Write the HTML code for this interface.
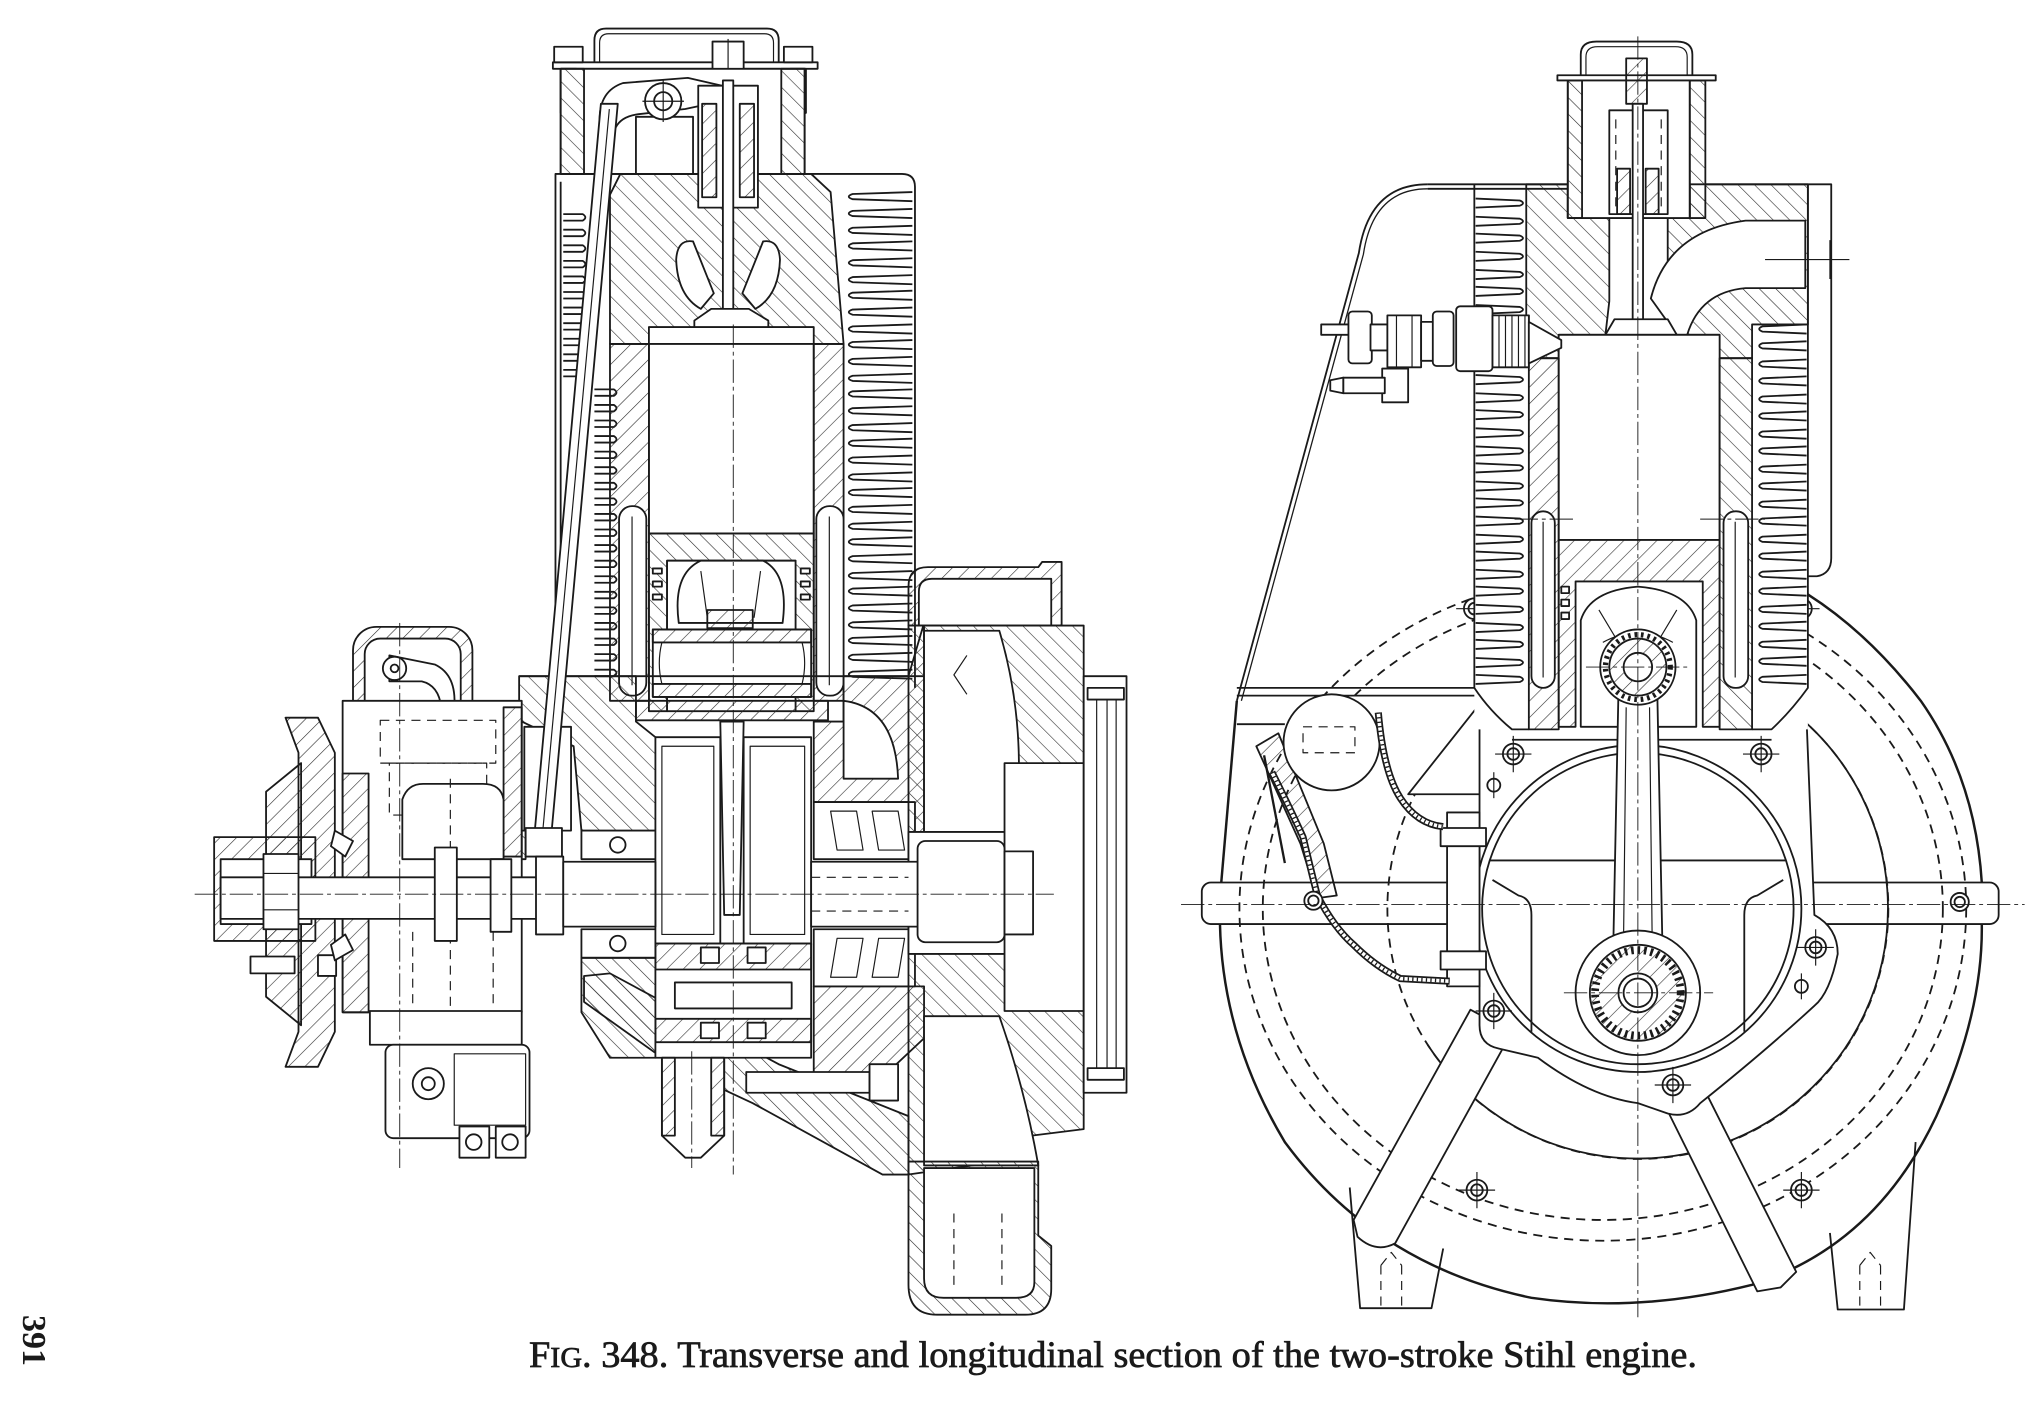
<!DOCTYPE html>
<html><head><meta charset="utf-8">
<style>
html,body{margin:0;padding:0;background:#fff;}
body{width:2035px;height:1420px;overflow:hidden;}
svg{display:block;}
.w{fill:#fff}
.h{fill:url(#h1)}
.k{fill:url(#h2)}
.c{stroke-width:.7;stroke-dasharray:18 3 3 3;fill:none}
.d{stroke-dasharray:7 5;fill:none}
.t{stroke-width:.9;fill:none}
.n{fill:none}
</style></head>
<body>
<svg xmlns="http://www.w3.org/2000/svg" width="2035" height="1420" viewBox="0 0 2035 1420">
<defs>
<pattern id="h1" patternUnits="userSpaceOnUse" width="9" height="9" patternTransform="rotate(45)"><line x1="0" y1="0" x2="0" y2="9" stroke="#2a2a2a" stroke-width="0.9"/></pattern>
<pattern id="h2" patternUnits="userSpaceOnUse" width="9" height="9" patternTransform="rotate(-45)"><line x1="0" y1="0" x2="0" y2="9" stroke="#2a2a2a" stroke-width="0.9"/></pattern>
<path id="fa" d="M0,0 L-46,1.5 Q-52,3.5 -46,5.5 L0,7"/>
<path id="fb" d="M0,0 L15,0 Q19,2.5 15,5 L0,5"/>
<path id="fd" d="M0,0 L34,1.5 Q39,3.5 34,5.5 L0,7"/>
<path id="fe" d="M0,0 L-34,1.5 Q-39,3.5 -34,5.5 L0,7"/>
</defs>
<rect width="2035" height="1420" fill="#fff"/>
<g transform="scale(1.29783)" stroke="#1a1a1a" stroke-width="1.4" fill="none" stroke-linejoin="round">

<!-- ================= LEFT ENGINE ================= -->
<path class="w" d="M428,530 L428,134 L695,134 Q705,134 705,144 L705,530"/>
<path d="M432,140 L432,530"/>
<g fill="none">
<use href="#fa" x="703" y="148"/><use href="#fa" x="703" y="161"/><use href="#fa" x="703" y="174"/><use href="#fa" x="703" y="186"/><use href="#fa" x="703" y="199"/><use href="#fa" x="703" y="212"/><use href="#fa" x="703" y="224"/><use href="#fa" x="703" y="237"/><use href="#fa" x="703" y="250"/><use href="#fa" x="703" y="262"/><use href="#fa" x="703" y="275"/><use href="#fa" x="703" y="288"/><use href="#fa" x="703" y="300"/><use href="#fa" x="703" y="313"/><use href="#fa" x="703" y="326"/><use href="#fa" x="703" y="338"/><use href="#fa" x="703" y="351"/><use href="#fa" x="703" y="364"/><use href="#fa" x="703" y="376"/><use href="#fa" x="703" y="389"/><use href="#fa" x="703" y="402"/><use href="#fa" x="703" y="414"/><use href="#fa" x="703" y="427"/><use href="#fa" x="703" y="440"/><use href="#fa" x="703" y="452"/><use href="#fa" x="703" y="465"/><use href="#fa" x="703" y="478"/><use href="#fa" x="703" y="490"/><use href="#fa" x="703" y="503"/><use href="#fa" x="703" y="516"/>
<use href="#fb" x="434" y="165"/><use href="#fb" x="434" y="177"/><use href="#fb" x="434" y="189"/><use href="#fb" x="434" y="201"/><use href="#fb" x="434" y="213"/><use href="#fb" x="434" y="225"/><use href="#fb" x="434" y="237"/><use href="#fb" x="434" y="249"/><use href="#fb" x="434" y="261"/><use href="#fb" x="434" y="273"/><use href="#fb" x="434" y="285"/>
<use href="#fb" x="458" y="300"/><use href="#fb" x="458" y="312"/><use href="#fb" x="458" y="324"/><use href="#fb" x="458" y="336"/><use href="#fb" x="458" y="348"/><use href="#fb" x="458" y="360"/><use href="#fb" x="458" y="372"/><use href="#fb" x="458" y="384"/><use href="#fb" x="458" y="396"/><use href="#fb" x="458" y="408"/><use href="#fb" x="458" y="420"/><use href="#fb" x="458" y="432"/><use href="#fb" x="458" y="444"/><use href="#fb" x="458" y="456"/><use href="#fb" x="458" y="468"/><use href="#fb" x="458" y="480"/><use href="#fb" x="458" y="492"/><use href="#fb" x="458" y="504"/><use href="#fb" x="458" y="516"/>
</g>

<!-- rocker cover -->
<path d="M458,50 L458,31 Q458,22 467,22 L591,22 Q600,22 600,31 L600,50"/>
<path class="t" d="M462,50 L462,33 Q462,26 469,26 L589,26 Q596,26 596,33 L596,50"/>
<rect class="w" x="426" y="48" width="204" height="5"/>
<rect class="w" x="427" y="36" width="22" height="12"/>
<rect class="h" x="432" y="53" width="12" height="34"/>
<rect class="w" x="604" y="36" width="22" height="12"/>
<rect class="h" x="609" y="53" width="12" height="34"/>
<rect class="w" x="549" y="32" width="24" height="30"/>
<path class="t" d="M561,30 L561,64"/>

<!-- valve housing -->
<rect class="w" x="432" y="53" width="188" height="81"/>
<rect class="k" x="432" y="53" width="18" height="81"/>
<rect class="k" x="602" y="53" width="18" height="81"/>
<rect class="w" x="490" y="90" width="44" height="44"/>
<path class="w" d="M462,92 Q462,70 480,64 L530,60 L556,66 L556,78 L528,84 L492,88 Q476,90 473,102 Z"/>
<circle class="w" cx="511" cy="78" r="14"/>
<circle cx="511" cy="78" r="7"/>
<path class="t" d="M495,78 H527 M511,62 V94"/>

<!-- head -->
<path class="k" d="M478,134 L625,134 L640,148 L650,265 L627,265 L627,252 L500,252 L500,265 L470,265 L470,150 Z"/>
<rect class="w" x="538" y="66" width="46" height="94"/>
<rect class="h" x="541" y="80" width="11" height="72"/>
<rect class="h" x="570" y="80" width="11" height="72"/>
<path class="w" d="M521,200 Q522,184 534,186 L550,226 L540,238 Q522,228 521,200 Z"/>
<path class="w" d="M601,200 Q600,184 588,186 L572,226 L582,238 Q600,228 601,200 Z"/>
<rect class="w" x="557" y="62" width="8" height="180"/>
<path class="w" d="M535,252 L592,252 L592,247 L577,238 L548,238 L535,247 Z"/>

<!-- cylinder -->
<rect class="w" x="500" y="265" width="127" height="146"/>
<rect class="h" x="470" y="265" width="30" height="275"/>
<rect class="h" x="627" y="265" width="23" height="275"/>
<rect class="w" x="477" y="390" width="21" height="146" rx="10"/>
<rect class="w" x="629" y="390" width="21" height="146" rx="10"/>
<path class="t" d="M487,398 V528 M639,398 V528"/>

<!-- piston -->
<path class="k" d="M500,411 L627,411 L627,548 L613,548 L613,432 L514,432 L514,548 L500,548 Z"/>
<rect class="w" x="514" y="432" width="99" height="116"/>
<path class="w" d="M523,480 Q518,442 540,432 L588,432 Q608,442 603,480 Z"/>
<path class="t" d="M540,440 L545,476 M586,440 L581,476"/>
<rect class="h" x="545" y="470" width="35" height="14"/>
<rect class="w" x="503" y="438" width="7" height="4"/><rect class="w" x="503" y="448" width="7" height="4"/><rect class="w" x="503" y="458" width="7" height="4"/>
<rect class="w" x="617" y="438" width="7" height="4"/><rect class="w" x="617" y="448" width="7" height="4"/><rect class="w" x="617" y="458" width="7" height="4"/>
<rect class="w" x="503" y="485" width="122" height="52"/>
<rect class="h" x="503" y="485" width="122" height="10"/>
<rect class="h" x="503" y="527" width="122" height="10"/>
<path class="t" d="M510,495 Q506,511 510,527 M618,495 Q622,511 618,527"/>
<rect class="h" x="490" y="540" width="148" height="15"/>

<!-- crankcase -->
<path d="M400,521 L712,521"/>
<path class="k" d="M400,521 L490,521 L490,556 L505,568 L505,640 L448,640 L442,575 L400,555 Z"/>
<path class="h" d="M627,556 L650,556 L650,521 L700,521 L712,480 L712,645 L700,645 L700,618 L627,618 Z"/>
<path class="w" d="M650,540 Q690,545 692,600 L650,600 Z"/>
<rect class="w" x="627" y="618" width="78" height="44"/>
<path class="t" d="M640,625 L660,625 L665,655 L645,655 Z M672,625 L692,625 L697,655 L677,655 Z"/>
<rect class="w" x="627" y="716" width="78" height="44"/>
<path class="t" d="M645,723 L665,723 L660,753 L640,753 Z M677,723 L697,723 L692,753 L672,753 Z"/>
<path class="h" d="M627,760 L712,760 L712,800 L680,830 L627,830 Z"/>
<rect class="w" x="448" y="640" width="57" height="22"/>
<circle cx="476" cy="651" r="6"/>
<rect class="w" x="448" y="716" width="57" height="22"/>
<circle cx="476" cy="727" r="6"/>
<path class="k" d="M448,738 L505,738 L505,815 L470,815 L448,780 Z"/>
<path class="k" d="M450,752 L470,750 L600,820 L700,860 L700,905 L680,905 L580,850 L520,822 L450,772 Z"/>

<!-- webs -->
<rect class="w" x="505" y="568" width="50" height="160"/>
<rect class="t" x="510" y="575" width="40" height="145"/>
<rect class="w" x="573" y="568" width="52" height="160"/>
<rect class="t" x="578" y="575" width="42" height="145"/>
<path class="w" d="M555,556 L573,556 L570,705 L558,705 Z"/>
<rect class="w" x="505" y="727" width="120" height="88"/>
<rect class="h" x="505" y="727" width="120" height="20"/>
<rect class="h" x="505" y="785" width="120" height="18"/>
<rect class="w" x="520" y="757" width="90" height="20"/>
<rect class="w" x="540" y="730" width="14" height="12"/><rect class="w" x="576" y="730" width="14" height="12"/>
<rect class="w" x="540" y="788" width="14" height="12"/><rect class="w" x="576" y="788" width="14" height="12"/>
<path class="w" d="M510,815 L558,815 L558,875 L540,892 L528,892 L510,875 Z"/>
<rect class="h" x="510" y="815" width="10" height="60"/>
<rect class="h" x="548" y="815" width="10" height="60"/>

<!-- pushrod -->
<path class="w" d="M404,560 L440,560 L440,640 L404,640 Z"/>
<path class="w" d="M463,80 L476,80 L424,652 L411,652 Z"/>
<path class="t" d="M469.5,84 L417.5,648"/>
<rect class="w" x="405" y="638" width="28" height="22"/>
<path class="k" d="M400,640 L405,640 L405,662 L400,662 Z"/>

<!-- flywheel housing -->
<path class="h" d="M700,482 L700,452 Q700,437 715,437 L800,437 L803,433 L818,433 L818,482 Z"/>
<path class="w" d="M708,482 L708,456 Q708,446 718,446 L810,446 L810,482 Z"/>
<path class="k" d="M700,482 L835,482 L835,870 L795,875 L770,895 L700,905 Z"/>
<path class="w" d="M712,486 L770,486 Q792,560 782,641 L712,641 Z"/>
<path class="t" d="M745,505 L735,520 L745,535"/>
<rect class="w" x="700" y="641" width="100" height="94"/>
<rect class="w" x="774" y="588" width="61" height="191"/>
<path class="w" d="M712,783 L770,783 Q790,840 800,898 L712,898 Z"/>
<rect class="w" x="835" y="521" width="33" height="321"/>
<path class="t" d="M845,532 V832 M853,532 V832 M860,532 V832"/>
<rect class="w" x="838" y="530" width="28" height="9"/>
<rect class="w" x="838" y="823" width="28" height="9"/>
<path class="k" d="M700,895 L700,990 Q700,1013 722,1013 L790,1013 Q810,1013 810,993 L810,960 L800,952 L800,895 Z"/>
<path class="w" d="M712,900 L712,985 Q712,1000 727,1000 L783,1000 Q797,1000 797,988 L797,900 Z"/>
<path class="d t" d="M735,935 V995 M772,935 V995"/>
<rect class="w" x="575" y="826" width="95" height="16"/>
<rect class="w" x="670" y="820" width="22" height="28"/>

<!-- gear housing -->
<rect class="h" x="272" y="483" width="92" height="75" rx="18"/>
<rect class="w" x="281" y="492" width="74" height="66" rx="12"/>
<path class="w" d="M300,505 L335,512 Q352,520 350,545 L340,545 Q338,528 325,525 L300,525 Z"/>
<circle class="w" cx="304" cy="515" r="9"/>
<circle cx="304" cy="515" r="3"/>
<rect class="w" x="264" y="540" width="138" height="240"/>
<rect class="h" x="264" y="596" width="20" height="184"/>
<rect class="h" x="388" y="545" width="14" height="115"/>
<rect class="d t" x="293" y="555" width="89" height="33"/>
<rect class="d t" x="300" y="588" width="75" height="40"/>
<path class="w" d="M310,662 L310,616 Q314,604 326,604 L372,604 Q386,604 388,616 L388,662 Z"/>
<path class="d t" d="M318,718 V778 M347,600 V778 M380,718 V778"/>
<rect class="w" x="285" y="779" width="117" height="26"/>
<rect class="w" x="297" y="805" width="111" height="72" rx="6"/>
<rect class="t" x="350" y="812" width="55" height="55"/>
<circle class="w" cx="330" cy="835" r="12"/>
<circle cx="330" cy="835" r="5"/>
<rect class="w" x="354" y="868" width="23" height="24"/>
<circle cx="365" cy="880" r="6"/>
<rect class="w" x="382" y="868" width="23" height="24"/>
<circle cx="393" cy="880" r="6"/>

<!-- pulley -->
<path class="h" d="M205,610 L232,588 L232,790 L205,768 Z"/>
<path class="h" d="M220,553 L245,553 L258,580 L258,795 L245,822 L220,822 L230,795 L230,580 Z"/>
<rect class="h" x="165" y="645" width="78" height="80"/>
<rect class="w" x="170" y="662" width="70" height="50"/>
<rect class="w" x="193" y="737" width="34" height="13"/>
<rect class="w" x="245" y="736" width="14" height="16"/>
<path class="w" d="M258,640 L272,648 L266,660 L255,652 Z M258,740 L272,732 L266,720 L255,728 Z"/>

<!-- shaft -->
<rect class="w" x="170" y="676" width="264" height="32"/>
<rect class="w" x="203" y="658" width="27" height="58"/>
<path class="t" d="M203,673 H230 M203,701 H230"/>
<rect class="w" x="335" y="653" width="17" height="72"/>
<rect class="w" x="378" y="662" width="16" height="56"/>
<rect class="w" x="413" y="660" width="21" height="60"/>
<rect class="w" x="434" y="664" width="71" height="50"/>
<rect class="w" x="625" y="664" width="170" height="50"/>
<rect class="w" x="707" y="648" width="67" height="78" rx="6"/>
<rect class="w" x="774" y="656" width="22" height="64"/>
<path class="d t" d="M625,676 H700 M625,702 H700"/>

<!-- left centerlines -->
<path class="c" d="M150,689 H812"/>
<path class="c" d="M565,250 V905"/>
<path class="c" d="M308,480 V900"/>
<path class="c" d="M533,810 V900"/>

<!-- ================= RIGHT ENGINE ================= -->
<!-- feet -->
<path class="w" d="M1040,915 L1048,1008 L1103,1008 L1112,962"/>
<path class="d t" d="M1064,975 V1008 M1080,975 V1008 M1064,975 L1072,965 L1080,975"/>
<path class="w" d="M1410,950 L1416,1009 L1467,1009 L1476,880"/>
<path class="d t" d="M1433,975 V1009 M1449,975 V1009 M1433,975 L1441,965 L1449,975"/>

<!-- outer housing -->
<path d="M940,712 Q942,800 990,880 Q1060,975 1180,1000 Q1262,1012 1350,990 Q1445,960 1492,860 Q1528,780 1527,712" stroke-width="1.9"/>
<path d="M1527,680 Q1522,600 1480,540 Q1440,488 1393,458" stroke-width="1.9"/>
<path d="M953,540 L941,680" stroke-width="1.9"/>
<ellipse class="d" cx="1235" cy="700" rx="262" ry="240"/>
<ellipse class="d" cx="1235" cy="700" rx="280" ry="256"/>
<circle class="d" cx="1262" cy="700" r="193"/>
<path d="M1386,552 A193,193 0 1,1 1100,805"/>
<rect x="926" y="680" width="614" height="32" rx="7"/>

<!-- struts -->
<path class="w" d="M1133,778 L1165,795 L1075,958 Q1060,966 1046,953 L1043,940 Z"/>
<path class="w" d="M1282,850 L1312,837 L1384,980 L1372,992 L1354,995 Z"/>

<!-- crankcase -->
<path class="w" d="M1085,612 L1150,530 L1172,545 L1150,612 Z"/>
<path class="w" d="M1140,555 L1140,790 Q1140,805 1155,808 L1185,815 Q1225,845 1262,850 L1285,858 Q1300,862 1310,850 Q1360,810 1398,775 Q1410,765 1416,735 Q1416,715 1398,705 L1392,555 Z"/>
<circle class="w" cx="1262" cy="700" r="126"/>
<circle cx="1262" cy="700" r="120"/>
<path d="M1148,663 H1376"/>
<path d="M1150,678 L1170,690 Q1180,692 1180,705 L1180,795"/>
<path d="M1374,678 L1354,690 Q1344,692 1344,705 L1344,795"/>

<!-- link, magneto, cables -->
<rect class="w" x="1115" y="626" width="25" height="134"/>
<rect class="w" x="1110" y="638" width="35" height="14"/>
<rect class="w" x="1110" y="733" width="35" height="14"/>
<path d="M953,536 H1140 M953,530 H1140"/>
<path d="M953,558 H990"/>
<path class="h" d="M968,575 L985,565 L1020,650 L1030,690 L1015,692 L1002,650 Z"/>
<path d="M974,582 L990,665" stroke-width="1.8"/>
<circle class="w" cx="1026" cy="572" r="37"/>
<rect class="d t" x="1004" y="560" width="40" height="20"/>
<g>
<path d="M1062,549 Q1066,595 1079,615 Q1092,635 1112,637" stroke-width="5.5"/>
<path d="M1062,549 Q1066,595 1079,615 Q1092,635 1112,637" stroke="#fff" stroke-width="2.8"/>
<path d="M1062,549 Q1066,595 1079,615 Q1092,635 1112,637" stroke-width="2.8" stroke-dasharray="1 2.5"/>
<path d="M980,595 Q995,625 1004,645 Q1010,670 1015,690 Q1028,715 1043,728 Q1060,745 1079,754 L1117,756" stroke-width="5.5"/>
<path d="M980,595 Q995,625 1004,645 Q1010,670 1015,690 Q1028,715 1043,728 Q1060,745 1079,754 L1117,756" stroke="#fff" stroke-width="2.8"/>
<path d="M980,595 Q995,625 1004,645 Q1010,670 1015,690 Q1028,715 1043,728 Q1060,745 1079,754 L1117,756" stroke-width="2.8" stroke-dasharray="1 2.5"/>
</g>

<!-- bolts -->
<g>
<circle class="w" cx="1136" cy="469" r="8"/><circle cx="1136" cy="469" r="4.5"/><path class="t" d="M1122,469h28M1136,455v28"/>
<circle class="w" cx="1388" cy="469" r="8"/><circle cx="1388" cy="469" r="4.5"/><path class="t" d="M1374,469h28M1388,455v28"/>
<circle class="w" cx="1166" cy="581" r="8"/><circle cx="1166" cy="581" r="4.5"/><path class="t" d="M1152,581h28M1166,567v28"/>
<circle class="w" cx="1357" cy="581" r="8"/><circle cx="1357" cy="581" r="4.5"/><path class="t" d="M1343,581h28M1357,567v28"/>
<circle class="w" cx="1012" cy="694" r="7"/><circle cx="1012" cy="694" r="4"/>
<circle class="w" cx="1510" cy="695" r="7"/><circle cx="1510" cy="695" r="4"/>
<circle class="w" cx="1399" cy="730" r="8"/><circle cx="1399" cy="730" r="4.5"/><path class="t" d="M1385,730h28M1399,716v28"/>
<circle class="w" cx="1151" cy="779" r="8"/><circle cx="1151" cy="779" r="4.5"/><path class="t" d="M1137,779h28M1151,765v28"/>
<circle class="w" cx="1289" cy="836" r="8"/><circle cx="1289" cy="836" r="4.5"/><path class="t" d="M1275,836h28M1289,822v28"/>
<circle class="w" cx="1138" cy="917" r="8"/><circle cx="1138" cy="917" r="4.5"/><path class="t" d="M1124,917h28M1138,903v28"/>
<circle class="w" cx="1388" cy="917" r="8"/><circle cx="1388" cy="917" r="4.5"/><path class="t" d="M1374,917h28M1388,903v28"/>
<circle class="w" cx="1151" cy="605" r="5"/><path class="t" d="M1151,595v20"/>
<circle class="w" cx="1388" cy="760" r="5"/><path class="t" d="M1388,750v20"/>
</g>

<!-- cylinder block -->
<rect fill="#fff" stroke="none" x="1136" y="142" width="257" height="420"/>
<path d="M1136,142 L1136,530 Q1148,548 1165,562 L1178,562"/>
<path d="M1393,142 L1393,530 Q1380,548 1365,562 L1350,562"/>
<g>
<use href="#fd" x="1137" y="153"/><use href="#fd" x="1137" y="167"/><use href="#fd" x="1137" y="180"/><use href="#fd" x="1137" y="194"/><use href="#fd" x="1137" y="208"/><use href="#fd" x="1137" y="221"/><use href="#fd" x="1137" y="235"/><use href="#fd" x="1137" y="248"/><use href="#fd" x="1137" y="262"/><use href="#fd" x="1137" y="276"/><use href="#fd" x="1137" y="289"/><use href="#fd" x="1137" y="303"/><use href="#fd" x="1137" y="316"/><use href="#fd" x="1137" y="330"/><use href="#fd" x="1137" y="344"/><use href="#fd" x="1137" y="357"/><use href="#fd" x="1137" y="371"/><use href="#fd" x="1137" y="384"/><use href="#fd" x="1137" y="398"/><use href="#fd" x="1137" y="412"/><use href="#fd" x="1137" y="425"/><use href="#fd" x="1137" y="439"/><use href="#fd" x="1137" y="452"/><use href="#fd" x="1137" y="466"/><use href="#fd" x="1137" y="480"/><use href="#fd" x="1137" y="493"/><use href="#fd" x="1137" y="507"/><use href="#fd" x="1137" y="520"/>
<use href="#fe" x="1392" y="250"/><use href="#fe" x="1392" y="263"/><use href="#fe" x="1392" y="277"/><use href="#fe" x="1392" y="290"/><use href="#fe" x="1392" y="304"/><use href="#fe" x="1392" y="317"/><use href="#fe" x="1392" y="331"/><use href="#fe" x="1392" y="344"/><use href="#fe" x="1392" y="358"/><use href="#fe" x="1392" y="371"/><use href="#fe" x="1392" y="385"/><use href="#fe" x="1392" y="398"/><use href="#fe" x="1392" y="412"/><use href="#fe" x="1392" y="425"/><use href="#fe" x="1392" y="439"/><use href="#fe" x="1392" y="452"/><use href="#fe" x="1392" y="466"/><use href="#fe" x="1392" y="479"/><use href="#fe" x="1392" y="493"/><use href="#fe" x="1392" y="506"/><use href="#fe" x="1392" y="520"/>
</g>

<!-- head -->
<path class="k" d="M1176,142 L1208,142 L1208,168 L1240,168 L1240,232 L1237,258 L1201,258 L1201,276 L1178,276 L1178,243 L1176,243 Z"/>
<path class="k" d="M1285,168 L1302,168 L1302,142 L1393,142 L1393,250 L1350,250 L1350,276 L1325,276 L1325,258 L1292,258 L1285,232 Z"/>
<path class="w" d="M1272,230 Q1285,178 1345,170 L1391,170 L1391,222 L1345,222 Q1310,225 1300,258 L1292,258 Z"/>
<path class="t" d="M1360,200 H1425 M1410,185 V215"/>

<!-- valve cover -->
<path d="M1218,60 L1218,42 Q1218,32 1230,32 L1292,32 Q1304,32 1304,42 L1304,60"/>
<path class="t" d="M1222,60 L1222,44 Q1222,36 1231,36 L1291,36 Q1300,36 1300,44 L1300,60"/>
<rect class="w" x="1200" y="58" width="122" height="4"/>
<rect class="w" x="1208" y="62" width="94" height="106"/>
<rect class="k" x="1208" y="62" width="11" height="106"/>
<rect class="k" x="1302" y="62" width="12" height="106"/>
<rect class="h" x="1253" y="45" width="16" height="35"/>
<rect class="w" x="1240" y="85" width="45" height="80"/>
<path class="d t" d="M1245,92 V160 M1280,92 V160"/>
<rect class="h" x="1246" y="130" width="10" height="35"/>
<rect class="h" x="1268" y="130" width="10" height="35"/>
<rect class="w" x="1258" y="80" width="8" height="168"/>
<path class="w" d="M1237,258 L1292,258 L1285,246 L1244,246 Z"/>

<!-- cylinder -->
<rect class="w" x="1201" y="258" width="124" height="158"/>
<rect class="h" x="1178" y="276" width="23" height="286"/>
<rect class="k" x="1325" y="276" width="25" height="286"/>
<rect class="w" x="1180" y="394" width="18" height="136" rx="9"/>
<rect class="w" x="1328" y="394" width="19" height="136" rx="9"/>
<path class="t" d="M1189,402 V522 M1337,402 V522"/>
<path class="c" d="M1167,400 H1215 M1310,400 H1360"/>

<!-- piston -->
<path class="h" d="M1201,416 L1325,416 L1325,560 L1312,560 L1312,448 L1214,448 L1214,560 L1201,560 Z"/>
<path class="w" d="M1218,560 L1218,478 Q1225,455 1262,452 Q1300,455 1307,478 L1307,560 Z"/>
<path class="t" d="M1232,470 L1250,500 M1292,470 L1274,500 M1235,495 Q1262,480 1289,495"/>
<rect class="w" x="1203" y="452" width="6" height="5"/><rect class="w" x="1203" y="462" width="6" height="5"/><rect class="w" x="1203" y="472" width="6" height="5"/>
<path d="M1165,570 H1365"/>

<!-- conrod -->
<path class="w" d="M1247,535 L1243,732 L1281,732 L1277,535 Z"/>
<path class="t" d="M1253,545 L1251,722 M1271,545 L1273,722"/>
<circle class="w" cx="1262" cy="514" r="29"/>
<circle cx="1262" cy="514" r="22" class="h"/>
<circle cx="1262" cy="514" r="25" stroke-width="4" stroke-dasharray="2 3"/>
<circle class="w" cx="1262" cy="514" r="11"/>
<circle class="w" cx="1262" cy="765" r="48"/>
<circle class="h" cx="1262" cy="765" r="37"/>
<circle cx="1262" cy="765" r="33" stroke-width="6" stroke-dasharray="2 3"/>
<circle class="w" cx="1262" cy="765" r="15"/>
<circle cx="1262" cy="765" r="11"/>

<!-- shroud -->
<path d="M1100,142 Q1055,142 1047,195 L953,540"/>
<path d="M1100,145.5 Q1058,145.5 1050.5,196 L956.5,540" stroke-width="1"/>
<path d="M1100,142 L1208,142 M1100,145.5 L1208,145.5 M1314,142 L1411,142 L1411,430 Q1411,442 1400,444 L1393,444"/>

<!-- spark plug -->
<rect class="w" x="1018" y="250" width="22" height="8"/>
<rect class="w" x="1039" y="240" width="18" height="40" rx="3"/>
<rect class="w" x="1056" y="250" width="13" height="20"/>
<rect class="w" x="1069" y="243" width="26" height="40"/>
<path class="t" d="M1076,243 V283 M1088,243 V283"/>
<rect class="w" x="1095" y="248" width="10" height="30"/>
<rect class="w" x="1104" y="240" width="16" height="42" rx="3"/>
<rect class="w" x="1122" y="236" width="28" height="50" rx="3"/>
<rect class="w" x="1150" y="243" width="28" height="40"/>
<path class="t" d="M1155,243 V283 M1160,243 V283 M1165,243 V283 M1170,243 V283 M1175,243 V283"/>
<path class="w" d="M1178,248 L1203,262 L1203,268 L1178,280 Z"/>
<rect class="w" x="1065" y="284" width="20" height="26"/>
<rect class="w" x="1035" y="291" width="32" height="12"/>
<path class="w" d="M1025,293 L1035,291 L1035,303 L1025,301 Z"/>

<!-- right centerlines -->
<path class="c" d="M1262,28 V1015"/>
<path class="c" d="M910,697 H1560"/>
<path class="c" d="M1222,514 H1302 M1205,765 H1320"/>
</g>

<!-- caption -->
<text x="529" y="1367" font-family="'Liberation Serif', serif" font-size="37" fill="#1a1a1a" stroke="#1a1a1a" stroke-width="0.7" textLength="1168" lengthAdjust="spacingAndGlyphs">F<tspan font-size="29">IG</tspan>. 348. Transverse and longitudinal section of the two-stroke Stihl engine.</text>
<text transform="translate(23,1315) rotate(90)" font-family="'Liberation Serif', serif" font-size="34" font-weight="bold" fill="#1a1a1a">391</text>
</svg>
</body></html>
